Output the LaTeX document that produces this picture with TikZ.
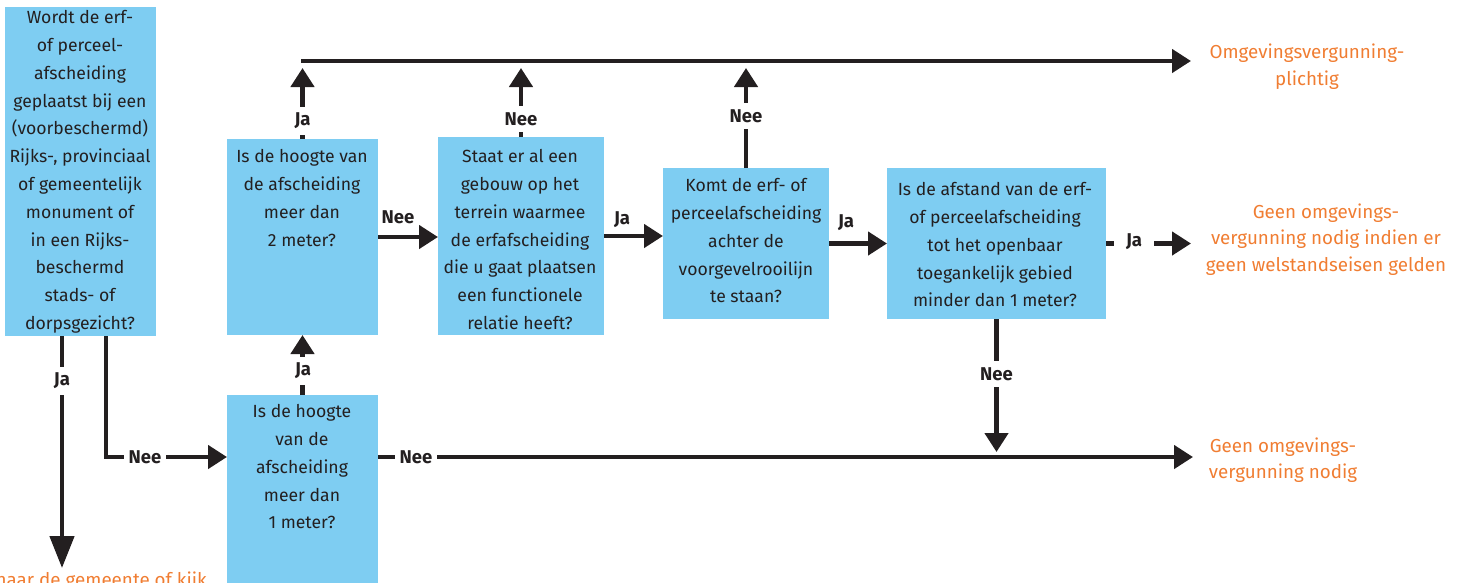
\documentclass[tikz,border=0pt]{standalone}
\usepackage{fontspec}
\setmainfont{Fira Sans}
\usetikzlibrary{arrows.meta}
\definecolor{boxblue}{RGB}{126,205,242}
\definecolor{ink}{RGB}{35,31,32}
\definecolor{orng}{RGB}{240,125,50}
\newcommand{\fst}{\rule{0pt}{15pt}}
\begin{document}
\begin{tikzpicture}[x=1pt,y=-1pt,
  qbox/.style={fill=boxblue, draw=none, inner sep=0pt, outer sep=0pt, anchor=north west},
  qtext/.style={font=\fontsize{17.6}{27.8}\selectfont, text=ink, align=center, inner sep=0pt, anchor=north},
  res/.style={font=\fontsize{18.8}{26.5}\selectfont, text=orng, align=center, inner sep=0pt, anchor=north},
  lab/.style={font=\fontsize{18.5}{20}\selectfont\bfseries, text=ink, inner sep=0pt},
  gapv/.style={lab, fill=white, inner xsep=3pt, inner ysep=6pt},
  gaph/.style={lab, fill=white, inner xsep=5pt, inner ysep=3pt},
  conn/.style={line width=4.5pt, draw=ink},
  arr/.style={conn, -{Triangle[length=19pt,width=23pt]}},
  bigarr/.style={conn, -{Triangle[length=32pt,width=24pt]}}
]
\useasboundingbox (0,0) rectangle (1467,582);

% boxes
\node[qbox, minimum width=151pt, minimum height=329pt] (box1) at (5,7) {};
\node[qbox, minimum width=151pt, minimum height=196pt] (box2) at (227,139) {};
\node[qbox, minimum width=166pt, minimum height=198pt] (box3) at (438,137) {};
\node[qbox, minimum width=166pt, minimum height=151pt] (box4) at (663,168) {};
\node[qbox, minimum width=219pt, minimum height=151pt] (box5) at (887,168) {};
\node[qbox, minimum width=151pt, minimum height=200pt] (box6) at (227,395) {};

% box texts
\node[qtext] (t1) at (80,8.5) {\fst Wordt de erf-\\of perceel-\\afscheiding\\geplaatst bij een\\(voorbeschermd)\\Rijks-, provinciaal\\of gemeentelijk\\monument of\\in een Rijks-\\beschermd\\stads- of\\dorpsgezicht?};
\node[qtext] (t2) at (302,147.5) {\fst Is de hoogte van\\de afscheiding\\meer dan\\2 meter?};
\node[qtext] (t3) at (520,147.5) {\fst Staat er al een\\gebouw op het\\terrein waarmee\\de erfafscheiding\\die u gaat plaatsen\\een functionele\\relatie heeft?};
\node[qtext] (t4) at (746,176.5) {\fst Komt de erf- of\\perceelafscheiding\\achter de\\voorgevelrooilijn\\te staan?};
\node[qtext] (t5) at (995,180.5) {\fst Is de afstand van de erf-\\of perceelafscheiding\\tot het openbaar\\toegankelijk gebied\\minder dan 1 meter?};
\node[qtext] (t6) at (302,402.5) {\fst Is de hoogte\\van de\\afscheiding\\meer dan\\1 meter?};

% results
\node[res] (r1) at (1307,43.5) {\fst Omgevingsvergunning-\\plichtig};
\node[res] (r2) at (1326,203) {\fst Geen omgevings-\\vergunning nodig indien er\\geen welstandseisen gelden};
\node[res] (r3) at (1283,437) {\fst Geen omgevings-\\vergunning nodig};
\node[font=\fontsize{18.8}{26.5}\selectfont, text=orng, inner sep=0pt, anchor=base east] (r4) at (207,586) {naar de gemeente of kijk};

% coordinates
\coordinate (topL) at (301,61);
\coordinate (endTop) at (1191,61);
\coordinate (endMid) at (1191,243.5);
\coordinate (endLow) at (1193,457);
\coordinate (endJa) at (62,568);

% connectors
\draw[bigarr] ([xshift=-18.5pt]box1.south) -- (endJa);
\draw[arr] ([xshift=25.5pt]box1.south) |- ([yshift=-62pt]box6.north west);
\draw[arr] (box6.north) -- (box2.south);
\draw[arr] ([yshift=-62pt]box6.north east) -- (endLow);
\draw[arr, shorten >=5pt] (box5.south) -- (box5.south |- endLow);
\draw[arr] (topL) -- (endTop);
\draw[arr, shorten >=7pt] (box2.north) -- (box2.north |- topL);
\draw[arr, shorten >=7pt] (box3.north) -- (box3.north |- topL);
\draw[arr, shorten >=7pt] (box4.north) -- (box4.north |- topL);
\draw[arr] (box2.east) -- (box2.east -| box3.west);
\draw[arr] (box3.east) -- (box3.east -| box4.west);
\draw[arr] (box4.east) -- (box5.west);
\draw[arr] (box5.east) -- (endMid);

% labels
\node[gapv] (l1) at (62,381) {Ja};
\node[gaph] (l2) at (145,457) {Nee};
\node[gapv] (l3) at (303,371) {Ja};
\node[gaph] (l4) at (416,457) {Nee};
\node[gapv] (l5) at (996.5,374) {Nee};
\node[gapv] (l6) at (302.5,121) {Ja};
\node[gapv] (l7) at (521,119) {Nee};
\node[gapv] (l8) at (746,116) {Nee};
\node[lab] (l9) at (398,217) {Nee};
\node[lab] (l10) at (622,220) {Ja};
\node[lab] (l11) at (846,223) {Ja};
\node[lab, fill=white, inner xsep=12pt, inner ysep=3pt] (l12) at (1134,242) {Ja};
\end{tikzpicture}
\end{document}
